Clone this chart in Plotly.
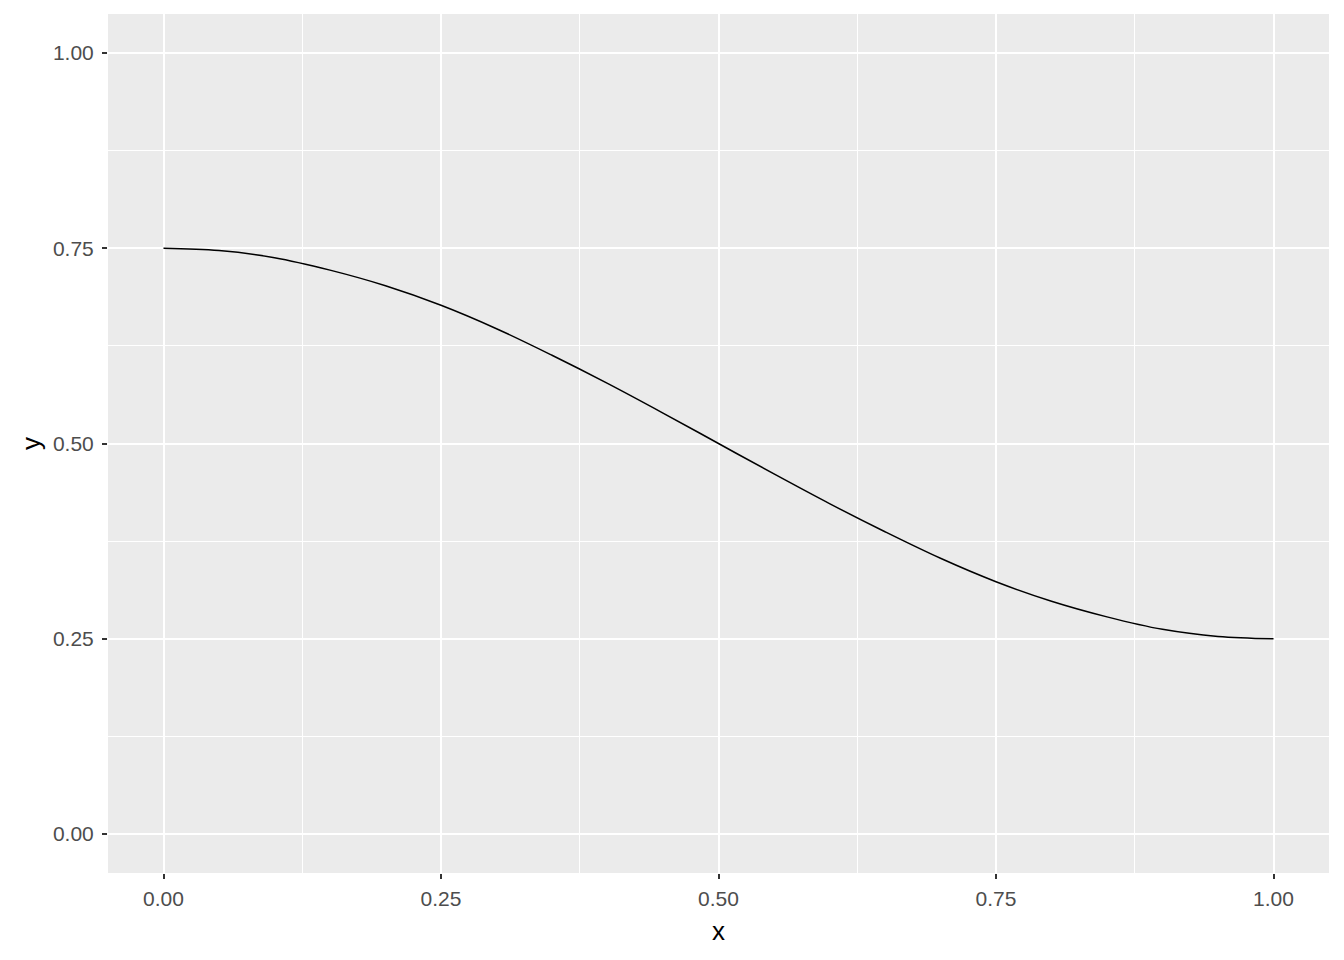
import plotly.graph_objects as go

# Values
x_vals = [0.00, 0.05, 0.10, 0.15, 0.20, 0.25, 0.30, 0.35, 0.40, 0.45, 0.50,
          0.55, 0.60, 0.65, 0.70, 0.75, 0.80, 0.85, 0.90, 0.95, 1.00]
y_vals = [0.750, 0.747, 0.738, 0.722, 0.702, 0.677, 0.647, 0.613, 0.577, 0.539, 0.500,
          0.461, 0.423, 0.387, 0.353, 0.323, 0.298, 0.278, 0.262, 0.253, 0.250]
tick_vals = [0.00, 0.25, 0.50, 0.75, 1.00]
tick_text = ["0.00", "0.25", "0.50", "0.75", "1.00"]

fig = go.Figure()
fig.add_trace(go.Scatter(x=x_vals, y=y_vals, mode="lines",
                         line=dict(color="black", width=1.5, shape="spline"),
                         showlegend=False))

axis_common = dict(
    tickvals=tick_vals, ticktext=tick_text,
    showgrid=True, gridcolor="white", gridwidth=2,
    zeroline=False, showline=False,
    ticks="outside", ticklen=5, tickwidth=2, tickcolor="#333333",
    tickfont=dict(family="Liberation Sans, Arial, sans-serif", size=21, color="#4D4D4D"),
    title_font=dict(family="Liberation Sans, Arial, sans-serif", size=26, color="black"),
    minor=dict(tickvals=[0.125, 0.375, 0.625, 0.875], showgrid=True,
               gridcolor="white", gridwidth=1, ticks=""),
    range=[-0.05, 1.05],
)

fig.update_layout(
    width=1328, height=944,
    margin=dict(l=100, r=7, t=6, b=79),
    paper_bgcolor="white", plot_bgcolor="#EBEBEB",
    xaxis=dict(title=dict(text="x", standoff=12), ticklabelstandoff=2, **axis_common),
    yaxis=dict(title=dict(text="y", standoff=4), ticklabelstandoff=4, **axis_common),
)

fig.write_html("out.html")
